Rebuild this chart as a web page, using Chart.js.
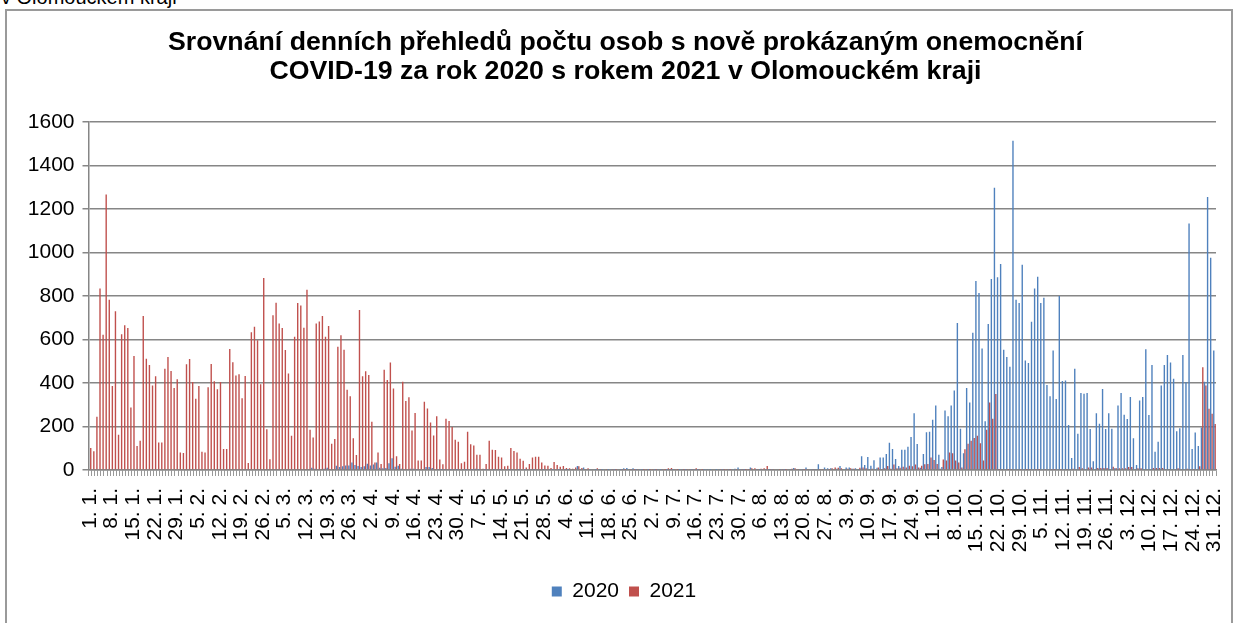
<!DOCTYPE html>
<html>
<head>
<meta charset="utf-8">
<script src="https://cdn.jsdelivr.net/npm/chart.js@4.4.0/dist/chart.umd.min.js"></script>
<style>
  html, body { margin: 0; padding: 0; background: #fff; }
  body { width: 1235px; height: 623px; position: relative; overflow: hidden; font-family: "Liberation Sans", Arial, sans-serif; }
  #caption { position: absolute; left: 1px; top: -13px; font-size: 20px; line-height: 20px; color: #000; white-space: nowrap; }
  #frame { position: absolute; left: 5px; top: 9px; width: 1224px; height: 640px; border: 2px solid #9a9a9a; }
  #wrap { position: absolute; left: 0; top: 0; width: 1235px; height: 623px; }
</style>
</head>
<body>
<div id="caption">v Olomouckém kraji</div>
<div id="frame"></div>
<div id="wrap"><canvas id="myChart" width="1235" height="623"></canvas></div>
<script>
const titleLines = [
    "Srovnání denních přehledů počtu osob s nově prokázaným onemocnění",
    "COVID-19 za rok 2020 s rokem 2021 v Olomouckém kraji"
];
const seriesNames = ["2020", "2021"];
const monthDays = [31, 28, 31, 30, 31, 30, 31, 31, 30, 31, 30, 31];
const yMax = 1600;
const yStep = 200;

// categories: 1. 1. ... 31. 12.
const dayLabels = [];
monthDays.forEach((n, m) => {
    for (let d = 1; d <= n; d++) {
        dayLabels.push(`${d}. ${m + 1}.`);
    }
});

// one row per week, starting on the labelled day (1. 1., 8. 1., ...)
const cases2020 = [
    0, 0, 0, 0, 0, 0, 0,
    0, 0, 0, 0, 0, 0, 0,
    0, 0, 0, 0, 0, 0, 0,
    0, 0, 0, 0, 0, 0, 0,
    0, 0, 0, 0, 0, 0, 0,
    0, 0, 0, 0, 0, 0, 0,
    0, 0, 0, 0, 0, 0, 0,
    0, 0, 0, 0, 0, 0, 0,
    0, 0, 0, 0, 0, 0, 0,
    0, 0, 0, 0, 0, 0, 0,
    0, 0, 10, 6, 0, 0, 6,
    10, 0, 0, 20, 14, 17, 21,
    21, 34, 23, 18, 14, 17, 29,
    21, 25, 35, 10, 8, 9, 31,
    54, 15, 20, 6, 4, 3, 6,
    6, 2, 3, 4, 14, 14, 9,
    3, 2, 1, 2, 3, 1, 2,
    1, 0, 2, 1, 0, 1, 6,
    1, 0, 1, 2, 0, 1, 0,
    1, 0, 0, 1, 2, 0, 1,
    0, 1, 0, 2, 1, 0, 0,
    1, 0, 2, 1, 0, 1, 3,
    2, 1, 4, 3, 18, 5, 12,
    4, 2, 3, 1, 2, 1, 0,
    1, 2, 1, 0, 1, 8, 9,
    2, 8, 1, 2, 1, 0, 1,
    0, 1, 2, 1, 0, 1, 2,
    1, 0, 1, 2, 1, 0, 1,
    2, 1, 0, 1, 2, 1, 0,
    1, 2, 1, 0, 5, 5, 6,
    11, 2, 1, 3, 12, 4, 2,
    1, 3, 2, 1, 2, 4, 3,
    2, 1, 3, 2, 9, 3, 5,
    2, 12, 3, 5, 5, 26, 3,
    12, 8, 8, 4, 6, 18, 3,
    12, 12, 6, 8, 5, 63, 23,
    60, 20, 45, 10, 58, 58, 74,
    125, 97, 51, 18, 93, 93, 107,
    152, 261, 120, 10, 74, 173, 176,
    231, 297, 70, 14, 273, 247, 296,
    365, 676, 190, 77, 377, 310, 631,
    869, 814, 559, 224, 671, 878, 1298,
    886, 947, 553, 520, 475, 1514, 783,
    768, 944, 503, 492, 682, 834, 889,
    768, 792, 391, 339, 549, 326, 800,
    409, 411, 207, 55, 466, 167, 354,
    351, 354, 189, 40, 261, 213, 372,
    189, 261, 190, 9, 297, 354, 254,
    234, 336, 146, 23, 319, 336, 555,
    253, 483, 84, 130, 388, 483, 529,
    494, 420, 178, 192, 529, 405, 1133,
    97, 172, 110, 195, 406, 1255, 976,
    549
];

const cases2021 = [
    101, 86, 245, 834, 622, 1267, 783,
    386, 730, 162, 624, 665, 653, 287,
    524, 110, 135, 708, 512, 483, 389,
    431, 126, 126, 466, 520, 455, 377,
    417, 80, 78, 486, 510, 405, 328,
    386, 84, 81, 380, 487, 408, 371,
    405, 97, 97, 556, 495, 435, 440,
    330, 432, 32, 633, 659, 596, 394,
    883, 187, 49, 711, 769, 674, 653,
    552, 444, 158, 613, 768, 756, 654,
    829, 185, 149, 673, 683, 708, 613,
    662, 121, 143, 567, 619, 553, 369,
    339, 146, 69, 736, 431, 454, 437,
    222, 35, 80, 28, 461, 414, 494,
    375, 63, 28, 406, 317, 334, 182,
    262, 44, 44, 314, 283, 218, 159,
    247, 48, 26, 236, 225, 198, 139,
    130, 31, 38, 176, 118, 113, 70,
    70, 6, 28, 135, 93, 92, 61,
    57, 17, 20, 101, 87, 81, 52,
    43, 11, 28, 58, 61, 61, 34,
    21, 20, 9, 37, 23, 15, 18,
    9, 8, 6, 12, 17, 9, 5,
    8, 3, 3, 8, 5, 3, 2,
    4, 2, 1, 3, 2, 1, 3,
    2, 1, 2, 3, 1, 2, 1,
    2, 1, 3, 2, 1, 8, 9,
    2, 1, 3, 1, 5, 2, 5,
    8, 2, 1, 4, 4, 3, 4,
    4, 2, 1, 2, 1, 3, 2,
    3, 2, 1, 2, 8, 8, 2,
    6, 8, 18, 5, 5, 4, 5,
    2, 1, 3, 6, 8, 2, 3,
    1, 2, 3, 2, 4, 5, 2,
    3, 2, 8, 12, 10, 8, 3,
    6, 8, 6, 4, 10, 12, 8,
    3, 6, 4, 12, 5, 8, 18,
    6, 25, 8, 10, 15, 11, 20,
    17, 25, 11, 20, 26, 28, 57,
    46, 28, 6, 48, 44, 81, 77,
    44, 34, 11, 95, 121, 135, 147,
    158, 123, 44, 185, 310, 236, 349,
    5, 2, 3, 1, 2, 4, 3,
    2, 3, 1, 2, 3, 2, 1,
    3, 2, 4, 2, 1, 3, 2,
    3, 2, 4, 6, 3, 14, 8,
    4, 11, 11, 3, 9, 9, 9,
    9, 4, 15, 8, 8, 8, 8,
    14, 14, 3, 8, 8, 4, 3,
    4, 9, 9, 9, 9, 3, 4,
    3, 4, 8, 3, 4, 6, 4,
    5, 4, 17, 472, 389, 282, 259,
    211
];

Chart.defaults.font.family = '"Liberation Sans", Arial, sans-serif';
Chart.defaults.color = "#000";

const myChartCanvas = document.getElementById("myChart");

// title and legend are centred on the frame, not on the plot; nudge them right
const nudgeBoxes = {
    id: "nudgeBoxes",
    afterLayout(chart) {
        if (chart.titleBlock) {
            chart.titleBlock.left += 7.5;
            chart.titleBlock.right += 7.5;
        }
        if (chart.legend) {
            chart.legend.left += 6;
            chart.legend.right += 6;
        }
    }
};

const chartData = {
    labels: dayLabels,
    datasets: [{
        label: seriesNames[0],
        data: cases2020,
        backgroundColor: "#4F81BD",
        borderWidth: 0,
        categoryPercentage: 0.9,
        barPercentage: 1.0
    }, {
        label: seriesNames[1],
        data: cases2021,
        backgroundColor: "#C0504D",
        borderWidth: 0,
        categoryPercentage: 0.9,
        barPercentage: 1.0
    }]
};

const chartConfig = {
    type: "bar",
    data: chartData,
    plugins: [nudgeBoxes],
    options: {
        responsive: false,
        animation: false,
        layout: {
            padding: { left: 20, right: 19, top: 0, bottom: 11 }
        },
        plugins: {
            title: {
                display: true,
                text: titleLines,
                color: "#000",
                font: { size: 26.7, weight: "bold", lineHeight: 1.086 },
                padding: { top: 28, bottom: 36 }
            },
            legend: {
                position: "bottom",
                labels: {
                    color: "#000",
                    font: { size: 21 },
                    boxWidth: 10,
                    boxHeight: 10,
                    padding: 10
                }
            },
            tooltip: { enabled: false }
        },
        scales: {
            x: {
                grid: {
                    drawOnChartArea: false,
                    color: "#999",
                    tickLength: 6,
                    offset: true
                },
                border: { color: "#868686", width: 1.5 },
                ticks: {
                    autoSkip: false,
                    maxRotation: 90,
                    minRotation: 90,
                    padding: 12,
                    color: "#000",
                    font: { size: 21 },
                    callback: (value, index) => index % 7 === 0 ? dayLabels[index] : ""
                },
                afterFit: (scale) => {
                    scale.height = 101;
                    scale.paddingLeft = 0;
                    scale.paddingRight = 0;
                }
            },
            y: {
                min: 0,
                max: yMax,
                ticks: {
                    stepSize: yStep,
                    padding: 8,
                    color: "#000",
                    font: { size: 21 },
                    callback: (value) => String(value)
                },
                grid: { color: "#868686", lineWidth: 1.5, tickLength: 6 },
                border: { color: "#868686", width: 1.5 },
                afterFit: (scale) => {
                    scale.width = 68.5;
                    scale.paddingTop = 0;
                    scale.paddingBottom = 0;
                }
            }
        }
    }
};

const myChart = new Chart(myChartCanvas, chartConfig);
</script>
</body>
</html>
